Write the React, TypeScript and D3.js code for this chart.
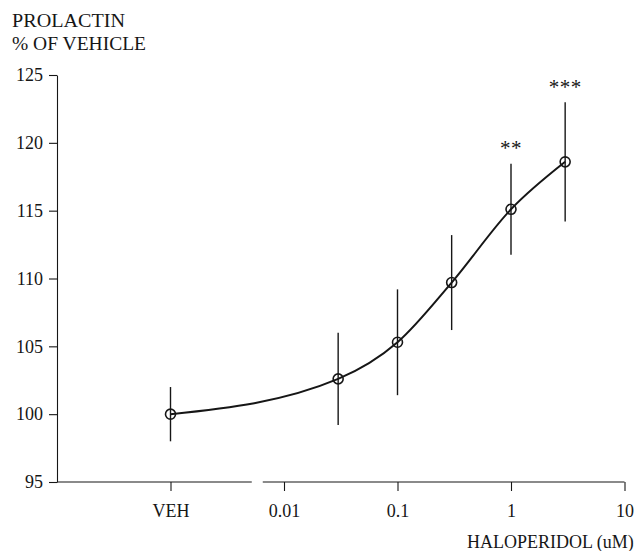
// Prolactin release vs haloperidol concentration, drawn with D3

import React, { useEffect, useRef } from 'react'
import * as d3 from 'd3'

// VEH is plotted in the 0.001 slot of the log axis
const doses = [0.001, 0.03, 0.1, 0.3, 1, 3]
const means = [100, 102.6, 105.3, 109.7, 115.1, 118.6]
const errors = [2.0, 3.4, 3.9, 3.5, 3.35, 4.4]
const stars = ['', '', '', '', '**', '***']

const xTickValues = [0.001, 0.01, 0.1, 1, 10]
const xTickLabels = ['VEH', '0.01', '0.1', '1', '10']
const yTickValues = [95, 100, 105, 110, 115, 120, 125]
// gap in the x axis line between VEH and the dose range
const axisBreak = [0.0052, 0.0065]

const W = 637
const H = 551
const INK = '#161616'
const FONT = '"Liberation Serif", "DejaVu Serif", serif'

const draw = (el: SVGSVGElement) => {
  const svg = d3.select(el)
  svg.selectAll('*').remove()

  const x = d3.scaleLog().domain([1e-4, 10]).range([57, 624.5])
  const y = d3.scaleLinear().domain([95, 125]).range([482, 75])

  // Y axis
  const yAxis = svg
    .append('g')
    .attr('transform', `translate(${x.range()[0]}, 0)`)
    .call(
      d3
        .axisLeft(y)
        .tickValues(yTickValues)
        .tickSize(8)
        .tickSizeOuter(0)
        .tickPadding(6)
        .tickFormat(d3.format('d'))
    )
  yAxis.selectAll('text').style('fill', INK).style('font-family', FONT).style('font-size', '18px')
  yAxis.selectAll('line').style('stroke', INK).style('stroke-width', 1.1)
  yAxis.selectAll('path').style('stroke', INK).style('stroke-width', 1.1)

  // X axis, the line itself is drawn in two pieces
  const xAxis = svg
    .append('g')
    .attr('transform', `translate(0, ${y(95)})`)
    .call(
      d3
        .axisBottom(x)
        .tickValues(xTickValues)
        .tickSize(9)
        .tickSizeOuter(0)
        .tickPadding(13)
        .tickFormat((d, i) => xTickLabels[i])
    )
  xAxis.select('.domain').remove()
  xAxis.selectAll('text').style('fill', INK).style('font-family', FONT).style('font-size', '18px')
  xAxis.selectAll('line').style('stroke', INK).style('stroke-width', 1.1)

  const pieces = [
    [1e-4, axisBreak[0]],
    [axisBreak[1], 10],
  ]
  xAxis
    .selectAll('line.piece')
    .data(pieces)
    .join('line')
    .attr('class', 'piece')
    .attr('x1', d => x(d[0]))
    .attr('x2', d => x(d[1]))
    .attr('y1', 0)
    .attr('y2', 0)
    .style('stroke', INK)
    .style('stroke-width', 1.1)

  // Axis titles
  const title = svg
    .append('g')
    .style('fill', INK)
    .style('font-family', FONT)
    .style('font-size', '19.5px')
  title
    .append('text')
    .attr('x', 12)
    .attr('y', 27)
    .attr('textLength', 113)
    .attr('lengthAdjust', 'spacingAndGlyphs')
    .text('PROLACTIN')
  title.append('text').attr('x', 12).attr('y', 50).text('% OF VEHICLE')

  svg
    .append('text')
    .attr('x', 467)
    .attr('y', 548)
    .style('fill', INK)
    .style('font-family', FONT)
    .style('font-size', '18px')
    .text('HALOPERIDOL (uM)')

  const points = doses.map((d, i) => ({ dose: d, mean: means[i], err: errors[i], star: stars[i] }))

  // Fitted curve through the means
  const line = d3
    .line<{ dose: number; mean: number }>()
    .x(d => x(d.dose))
    .y(d => y(d.mean))
    .curve(d3.curveMonotoneX)

  svg
    .append('path')
    .datum(points)
    .attr('d', line)
    .style('fill', 'none')
    .style('stroke', INK)
    .style('stroke-width', 2)

  // Error bars
  svg
    .append('g')
    .selectAll('line')
    .data(points)
    .join('line')
    .attr('x1', d => x(d.dose))
    .attr('x2', d => x(d.dose))
    .attr('y1', d => y(d.mean - d.err))
    .attr('y2', d => y(d.mean + d.err))
    .style('stroke', INK)
    .style('stroke-width', 1.4)

  // Open circles
  svg
    .append('g')
    .selectAll('circle')
    .data(points)
    .join('circle')
    .attr('cx', d => x(d.dose))
    .attr('cy', d => y(d.mean))
    .attr('r', 5)
    .style('fill', 'none')
    .style('stroke', INK)
    .style('stroke-width', 1.6)

  // Significance marks
  svg
    .append('g')
    .selectAll('text')
    .data(points.filter(d => d.star))
    .join('text')
    .attr('x', d => x(d.dose))
    .attr('y', d => y(d.mean + d.err) - 8.5)
    .attr('text-anchor', 'middle')
    .style('fill', INK)
    .style('font-family', FONT)
    .style('font-size', '21px')
    .style('letter-spacing', '0.5px')
    .text(d => d.star)
}

export default function App() {
  const ref = useRef<SVGSVGElement>(null)

  useEffect(() => {
    if (ref.current) draw(ref.current)
  }, [])

  return (
    <svg
      ref={ref}
      width={W}
      height={H}
      style={{ position: 'absolute', left: 0, top: 0, background: '#fff' }}
    />
  )
}
